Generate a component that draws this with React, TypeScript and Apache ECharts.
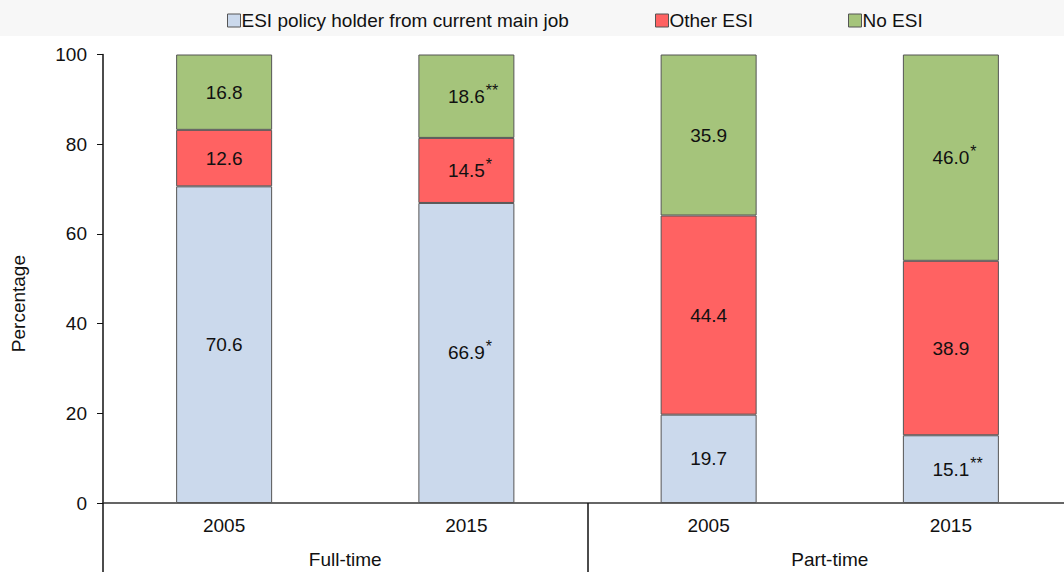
import React, { useEffect, useRef } from "react";
import * as echarts from "echarts";

const years = ["2005", "2015", "2005", "2015"];
const groups = ["Full-time", "Part-time"];
const seriesNames = ["ESI policy holder from current main job", "Other ESI", "No ESI"];
const esiHolder = [70.6, 66.9, 19.7, 15.1];
const otherEsi = [12.6, 14.5, 44.4, 38.9];
const noEsi = [16.8, 18.6, 35.9, 46.0];
const esiHolderMarks = ["", "*", "", "**"];
const otherEsiMarks = ["", "*", "", ""];
const noEsiMarks = ["", "**", "", "*"];
const yTicks = [0, 20, 40, 60, 80, 100];

const colors = ["#cbd9ec", "#ff6262", "#a5c47b"];
const FONT = "Liberation Sans, Arial, sans-serif";
const FS = 19;

function labelFor(values: number[], marks: string[]) {
  return (p: any) => {
    const v = values[p.dataIndex].toFixed(1);
    const m = marks[p.dataIndex];
    if (!m) return `{v|${v}}`;
    return `{p|${m}}{v|${v}}{s|${m}}`;
  };
}

const rich = {
  v: { fontSize: FS, color: "#111", fontFamily: FONT },
  s: { fontSize: 16, color: "#111", fontFamily: FONT, padding: [0, 0, 12, 1] },
  p: { fontSize: 16, color: "rgba(0,0,0,0)", fontFamily: FONT, padding: [0, 1, 12, 0] },
};

const legendLefts = [222, 650, 843];

export default function App() {
  const ref = useRef<HTMLDivElement>(null);
  useEffect(() => {
    if (!ref.current) return;
    const chart = echarts.init(ref.current, null, { renderer: "svg" });
    const mk = (i: number, values: number[], marks: string[]) => ({
      name: seriesNames[i],
      type: "bar",
      stack: "total",
      barWidth: 96,
      data: values,
      itemStyle: { color: colors[i], borderColor: "#555", borderWidth: 1 },
      label: {
        show: true,
        position: "inside",
        formatter: labelFor(values, marks),
        rich,
      },
    });
    chart.setOption({
      animation: false,
      textStyle: { fontFamily: FONT },
      graphic: [
        { type: "rect", left: 0, top: 0, shape: { width: 1080, height: 36 }, style: { fill: "#f7f7f7" }, z: -10 },
        {
          type: "text",
          left: 9,
          top: 255,
          rotation: Math.PI / 2,
          style: { text: "Percentage", font: `${FS}px ${FONT}`, fill: "#111" },
        },
      ],
      legend: seriesNames.map((n, i) => ({
        top: 6,
        left: legendLefts[i],
        itemWidth: 13,
        itemHeight: 13,
        icon: "rect",
        textStyle: { fontSize: FS, color: "#111", padding: [0, 0, 0, -4] },
        data: [
          {
            name: n,
            itemStyle: { color: colors[i], borderColor: "#555", borderWidth: 1 },
          },
        ],
      })),
      grid: { left: 103, right: 8, top: 54.5, bottom: 69 },
      xAxis: [
        {
          type: "category",
          data: years,
          axisLine: { lineStyle: { color: "#333", width: 1.5 } },
          axisTick: { show: false },
          axisLabel: { fontSize: FS, color: "#111", margin: 13 },
        },
        {
          type: "category",
          data: groups,
          position: "bottom",
          axisLine: { show: false },
          axisTick: { show: true, length: 72, lineStyle: { color: "#111", width: 1.5 } },
          axisLabel: { fontSize: FS, color: "#111", margin: 47 },
        },
      ],
      yAxis: {
        type: "value",
        min: yTicks[0],
        max: yTicks[yTicks.length - 1],
        interval: 20,
        axisLine: { show: true, lineStyle: { color: "#111", width: 1.5 } },
        axisTick: { show: true, length: 6, lineStyle: { color: "#111" } },
        axisLabel: { fontSize: FS, color: "#111", margin: 16 },
        splitLine: { show: false },
      },
      series: [
        mk(0, esiHolder, esiHolderMarks),
        mk(1, otherEsi, otherEsiMarks),
        mk(2, noEsi, noEsiMarks),
      ],
    });
    return () => chart.dispose();
  }, []);
  return (
    <div
      ref={ref}
      style={{ position: "fixed", left: 0, top: 0, width: 1080, height: 572, background: "#fff" }}
    />
  );
}
